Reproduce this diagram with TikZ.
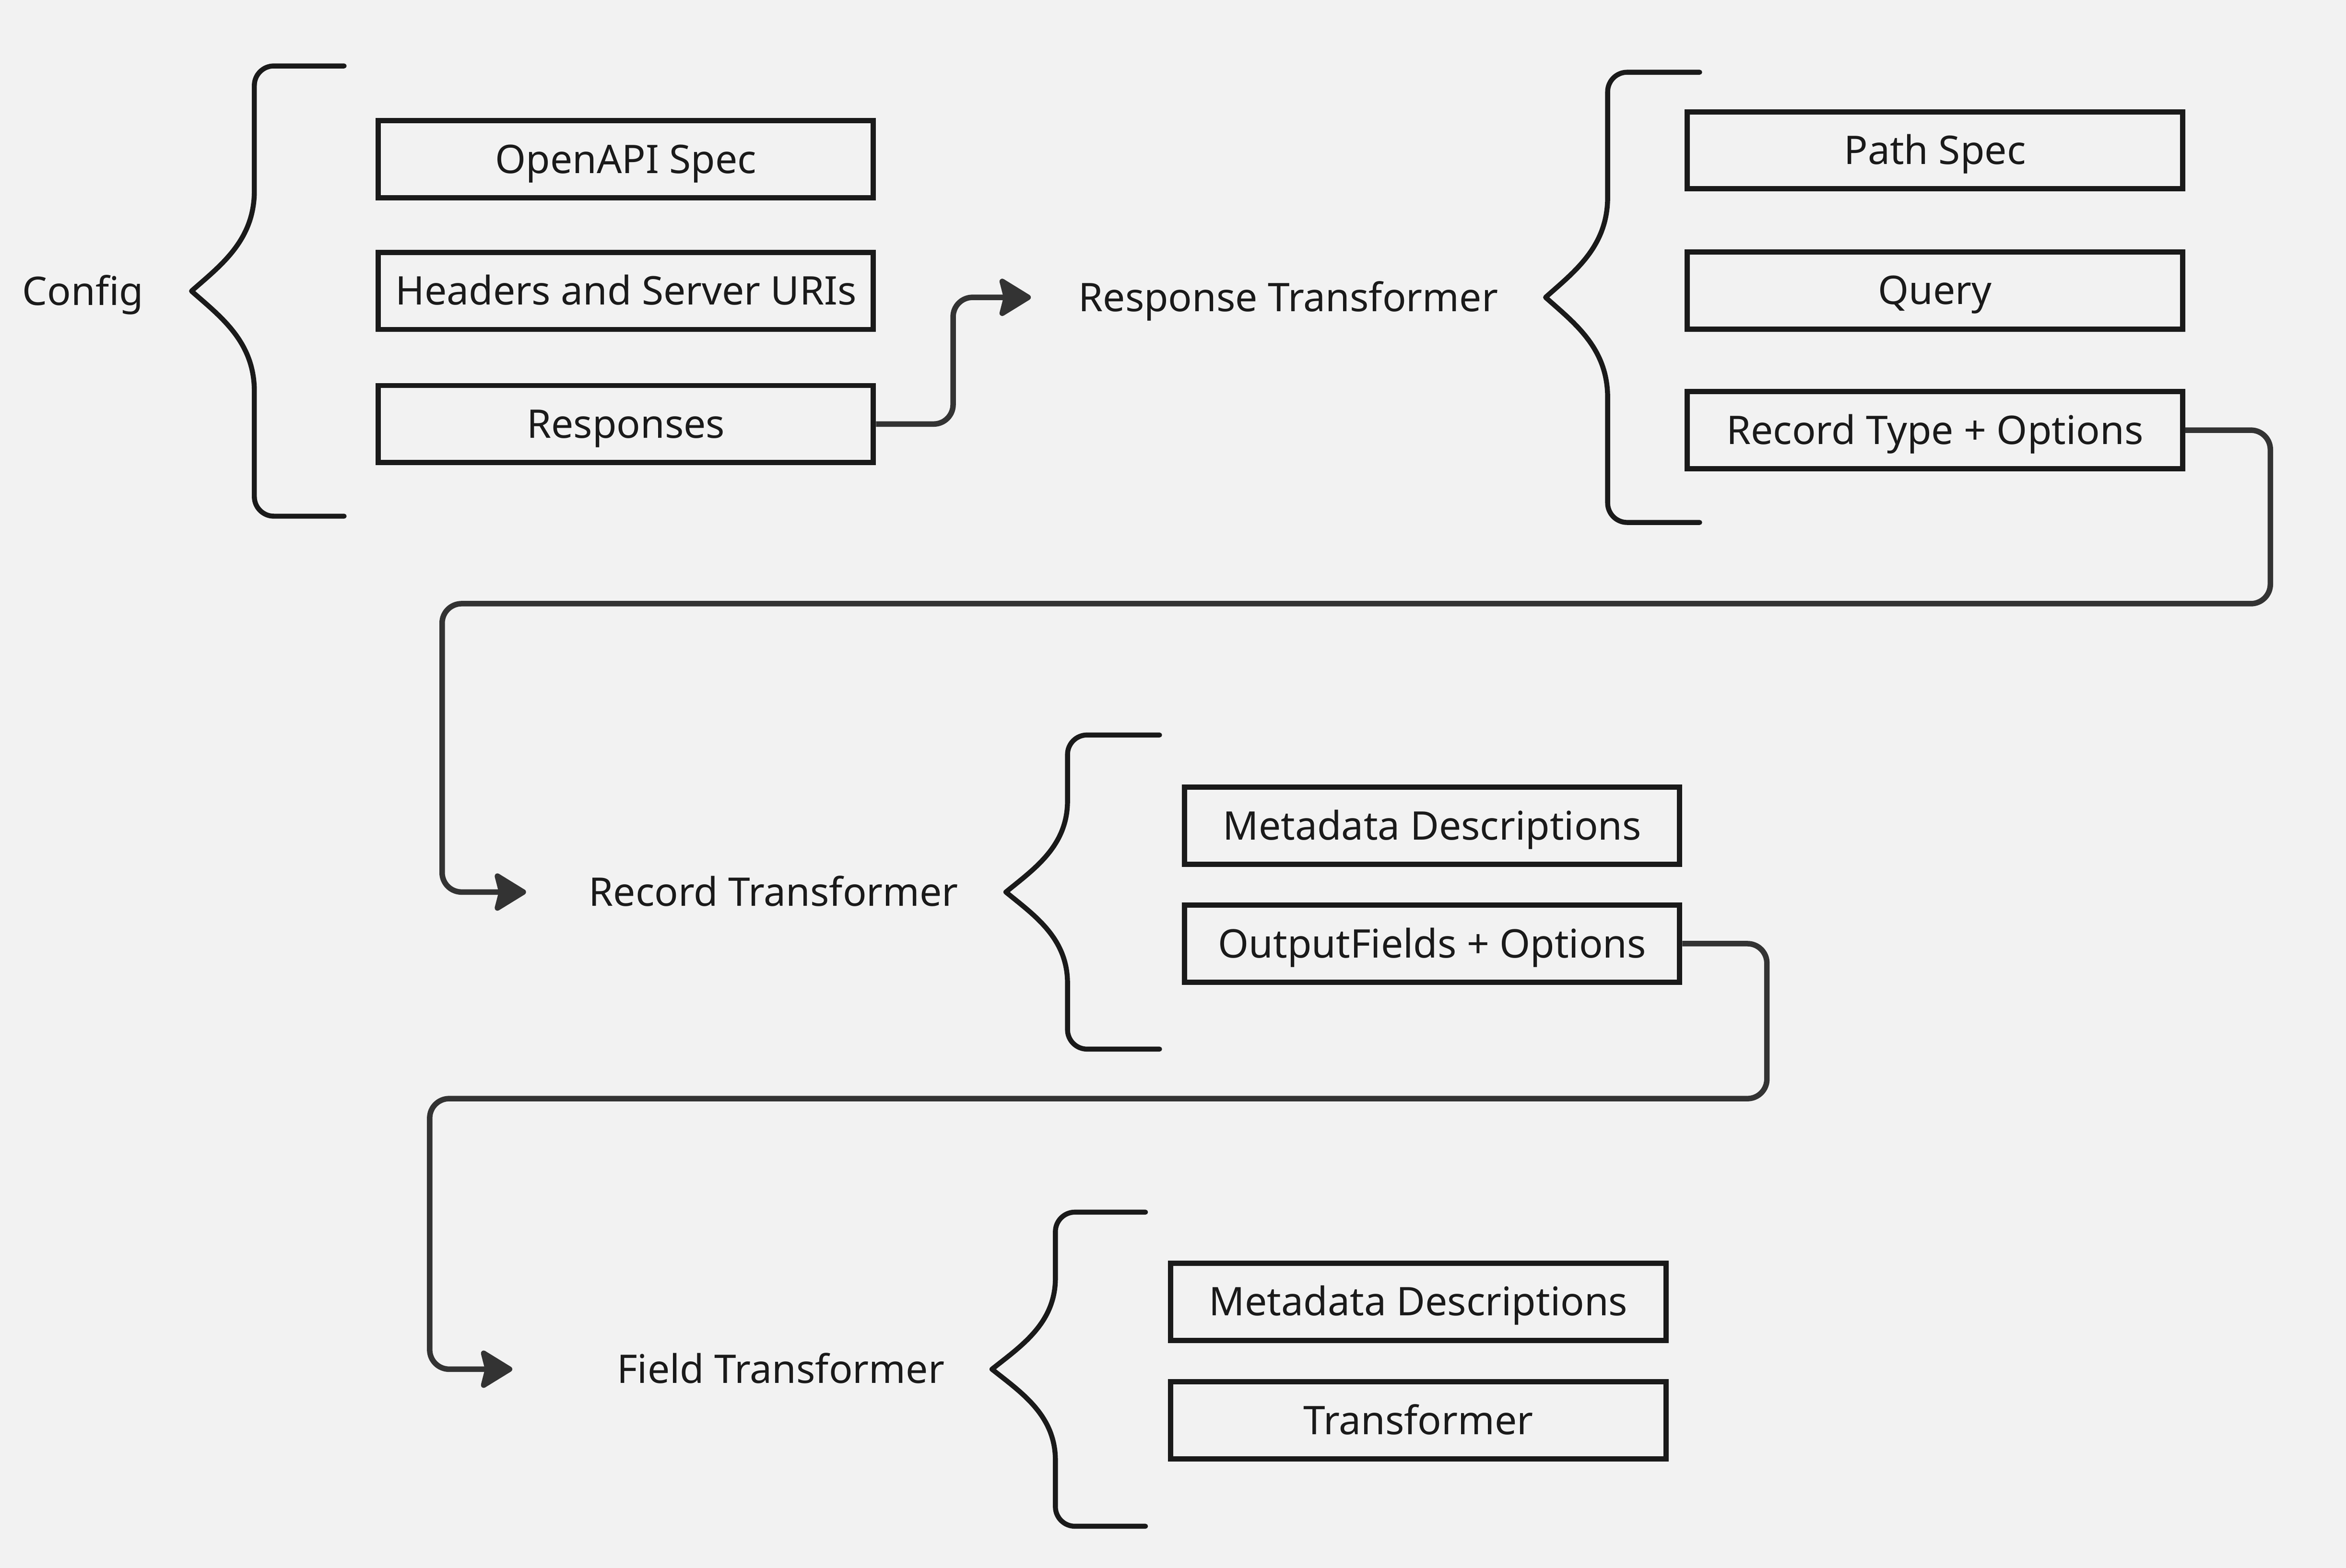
\documentclass[tikz,border=0pt]{standalone}
\usepackage{fontspec}
\setmainfont{Noto Sans}
\usetikzlibrary{arrows.meta}
\definecolor{bg}{HTML}{F2F2F2}
\definecolor{ink}{HTML}{1A1A1A}
\definecolor{wire}{HTML}{333333}
% #1 xtip, #2 ytip, #3 xvert, #4 xend, #5 half height, #6 curve span
\newcommand\mybrace[6]{%
  \draw[bracestyle] ({#4},{#2-#5}) -- ({#3+13},{#2-#5})
    .. controls ({#3+5.85},{#2-#5}) and ({#3},{#2-#5+5.85}) .. ({#3},{#2-#5+13})
    -- ({#3},{#2-#6})
    .. controls ({#3},{#2-0.5*#6}) and ({#3-0.55*(#3-#1)},{#2-0.25*#6}) .. ({#1},{#2})
    .. controls ({#3-0.55*(#3-#1)},{#2+0.25*#6}) and ({#3},{#2+0.5*#6}) .. ({#3},{#2+#6})
    -- ({#3},{#2+#5-13})
    .. controls ({#3},{#2+#5-5.85}) and ({#3+5.85},{#2+#5}) .. ({#3+13},{#2+#5})
    -- ({#4},{#2+#5});}
\tikzset{
  txt/.style={inner sep=0pt, text=ink, text height=14.4pt, text depth=3.75pt},
  itembox/.style={txt, draw=ink, line width=2pt, minimum width=6.62cm, minimum height=1.03cm},
  bracestyle/.style={draw=ink, line width=1.9pt, line cap=round, line join=round},
  conn/.style={draw=wire, line width=2.1pt, rounded corners=0.26cm,
    -{Stealth[length=0.47cm, width=0.57cm, inset=0.07cm, round]}},
}
\begin{document}
\begin{tikzpicture}[x=0.02cm, y=-0.02cm, font=\fontsize{15}{18}\selectfont]
\fill[bg] (0,0) rectangle (1568,1048.32);
\useasboundingbox (0,0) rectangle (1568,1048.32);

% text labels
\node[txt] (config) at (55.5,194.6) {Config};
\node[txt] (resp) at (861,198.8) {Response Transformer};
\node[txt] (rec) at (517,596.4) {Record Transformer};
\node[txt] (field) at (521.8,915.4) {Field Transformer};

% braces
\mybrace{128}{194.6}{170}{230}{150.5}{67}
\mybrace{1033}{198.8}{1074.5}{1136}{150.5}{67}
\mybrace{672.3}{596.4}{713.5}{775}{105}{61}
\mybrace{663}{915.4}{705.4}{765.6}{105}{61}

% boxes
\node[itembox] (openapi) at (418.3,106.5) {OpenAPI Spec};
\node[itembox] (headers) at (418.3,194.5) {Headers and Server URIs};
\node[itembox] (responses) at (418.3,283.5) {Responses};

\node[itembox] (pathspec) at (1293.2,100.5) {Path Spec};
\node[itembox] (query) at (1293.2,194.2) {Query};
\node[itembox] (rectype) at (1293.2,287.6) {Record Type + Options};

\node[itembox] (rmeta) at (957.2,552) {Metadata Descriptions};
\node[itembox] (outfields) at (957.2,630.9) {OutputFields + Options};

\node[itembox] (fmeta) at (948,870.3) {Metadata Descriptions};
\node[itembox] (ftrans) at (948,949.6) {Transformer};

% arrow tips
\coordinate (resptip) at (689,198.8);
\coordinate (rectip) at (351.6,596.4);
\coordinate (fieldtip) at (342.4,915.4);

% connectors
\draw[conn] (responses.east) -- ++(51.5,0) |- (resptip);
\draw[conn] (rectype.east) -- ++(57,0) |- (295.5,403.6) |- (rectip);
\draw[conn] (outfields.east) -- ++(56.5,0) |- (287.2,734.5) |- (fieldtip);
\end{tikzpicture}
\end{document}
